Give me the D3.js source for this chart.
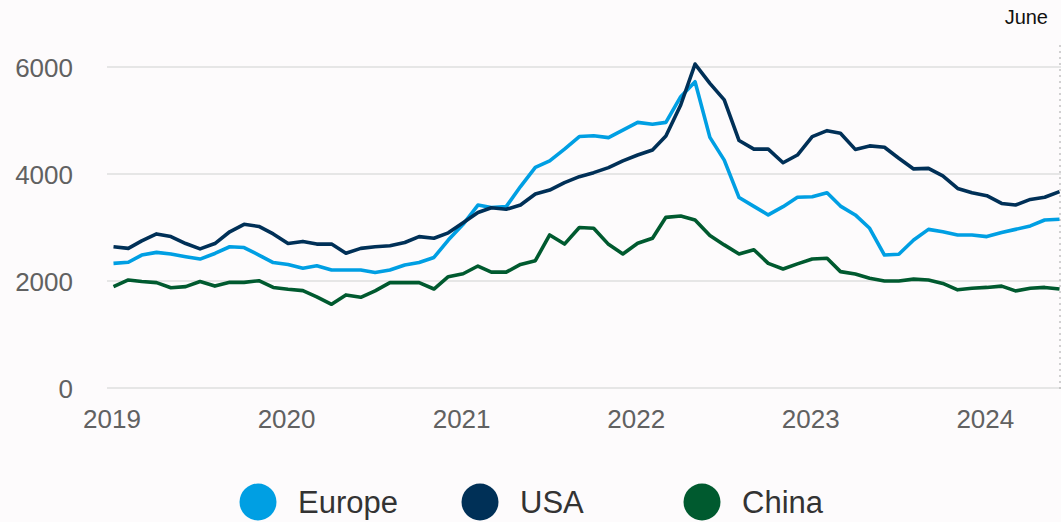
<!DOCTYPE html>
<html>
<head>
<meta charset="utf-8">
<script src="https://cdn.jsdelivr.net/npm/d3@7"></script>
<style>
  html, body { margin: 0; padding: 0; background: #fdfbfc; }
  svg { display: block; }
  text { font-family: "Liberation Sans", Arial, sans-serif; }
</style>
</head>
<body>
<svg id="chart" width="1061" height="522"></svg>
<script>
// ---- Data (monthly, Jan 2019 – Jun 2024) ----
const startMonth = "2019-01";
const endMonth = "2024-06";
const seriesNames = ["Europe", "USA", "China"];
const seriesColors = ["#009fe3", "#003057", "#005a2f"];

const europe = [2330,2350,2485,2535,2505,2455,2410,2515,2640,2625,2485,2345,
                2310,2240,2285,2205,2205,2205,2160,2205,2300,2345,2440,2765,
                3060,3420,3375,3390,3765,4125,4245,4465,4700,4715,4680,4820,
                4965,4930,4965,5445,5725,4685,4260,3560,3395,3235,3390,3565,
                3575,3650,3400,3235,2985,2485,2500,2765,2965,2920,2860,2860,
                2830,2905,2965,3030,3140,3155];
const usa = [2640,2610,2750,2880,2830,2700,2600,2700,2920,3060,3020,2880,
             2700,2740,2690,2690,2520,2610,2640,2660,2720,2830,2800,2900,
             3090,3280,3370,3340,3420,3625,3700,3840,3950,4025,4120,4245,
             4355,4450,4710,5290,6055,5695,5385,4625,4465,4465,4210,4355,
             4700,4810,4760,4460,4525,4500,4295,4095,4105,3965,3730,3650,
             3595,3450,3420,3525,3565,3670];
const china = [1895,2020,1990,1970,1875,1895,1990,1905,1975,1975,2005,1880,
               1845,1820,1705,1565,1740,1695,1815,1970,1970,1970,1850,2080,
               2135,2280,2165,2165,2310,2380,2860,2690,3000,2985,2685,2505,
               2705,2800,3190,3215,3140,2850,2675,2505,2585,2330,2225,2320,
               2410,2425,2175,2130,2050,2000,2000,2035,2020,1955,1835,1865,
               1880,1905,1815,1865,1880,1850];

const yTicks = [0, 2000, 4000, 6000];
const xTickYears = [2019, 2020, 2021, 2022, 2023, 2024];
const endLabel = "June";

// ---- Build ----
const parse = d3.timeParse("%Y-%m");
const months = d3.timeMonth.range(parse(startMonth), d3.timeMonth.offset(parse(endMonth), 1));
const allSeries = [europe, usa, china];

const svg = d3.select("#chart");

const x = d3.scaleTime()
  .domain([parse(startMonth), parse(endMonth)])
  .range([113.5, 1059.5]);
const y = d3.scaleLinear().domain([0, 6000]).range([388, 67]);

// gridlines
svg.append("g").selectAll("line").data(yTicks).join("line")
  .attr("x1", 107).attr("x2", 1061)
  .attr("y1", d => y(d)).attr("y2", d => y(d))
  .attr("stroke", "#e6e6e6").attr("stroke-width", 2);

// y labels
const yAxis = d3.axisLeft(y).tickValues(yTicks).tickSize(0).tickPadding(0).tickFormat(d3.format("d"));
const gy = svg.append("g").attr("transform", "translate(73,0)").call(yAxis);
gy.select(".domain").remove();
gy.selectAll("text")
  .attr("font-size", 26).attr("fill", "#616161")
  .attr("font-family", "Liberation Sans, Arial, sans-serif")
  .attr("dy", "0.36em");

// x labels
const xAxis = d3.axisBottom(x)
  .tickValues(xTickYears.map(yr => new Date(yr, 0, 1)))
  .tickSize(0).tickPadding(0).tickFormat(d3.timeFormat("%Y"));
const gx = svg.append("g").attr("transform", "translate(-2,0)").call(xAxis);
gx.select(".domain").remove();
gx.selectAll("text")
  .attr("y", 428).attr("dy", 0)
  .attr("font-size", 26).attr("fill", "#616161")
  .attr("font-family", "Liberation Sans, Arial, sans-serif");

// dotted end marker
svg.append("line")
  .attr("x1", x(parse(endMonth)) + 0.5).attr("x2", x(parse(endMonth)) + 0.5)
  .attr("y1", 45).attr("y2", 390)
  .attr("stroke", "#b5b5b5").attr("stroke-width", 1.2)
  .attr("stroke-dasharray", "2,4");

svg.append("text")
  .attr("x", 1048).attr("y", 24)
  .attr("text-anchor", "end")
  .attr("font-size", 20).attr("fill", "#111")
  .text(endLabel);

// lines
const line = d3.line()
  .x((d, i) => x(months[i]))
  .y(d => y(d));

const drawOrder = [0, 2, 1];
drawOrder.forEach(k => {
  svg.append("path")
    .datum(allSeries[k])
    .attr("d", line)
    .attr("fill", "none")
    .attr("stroke", seriesColors[k])
    .attr("stroke-width", 3.6)
    .attr("stroke-linejoin", "round")
    .attr("stroke-linecap", "butt");
});

// legend
const legendX = [258, 480, 702];
const lg = svg.append("g").selectAll("g").data(seriesNames).join("g")
  .attr("transform", (d, i) => `translate(${legendX[i]},502)`);
lg.append("circle").attr("r", 18.5).attr("fill", (d, i) => seriesColors[i]);
lg.append("text")
  .attr("x", 40).attr("dy", "0.36em")
  .attr("font-size", 31).attr("fill", "#333")
  .text(d => d);
</script>
</body>
</html>
